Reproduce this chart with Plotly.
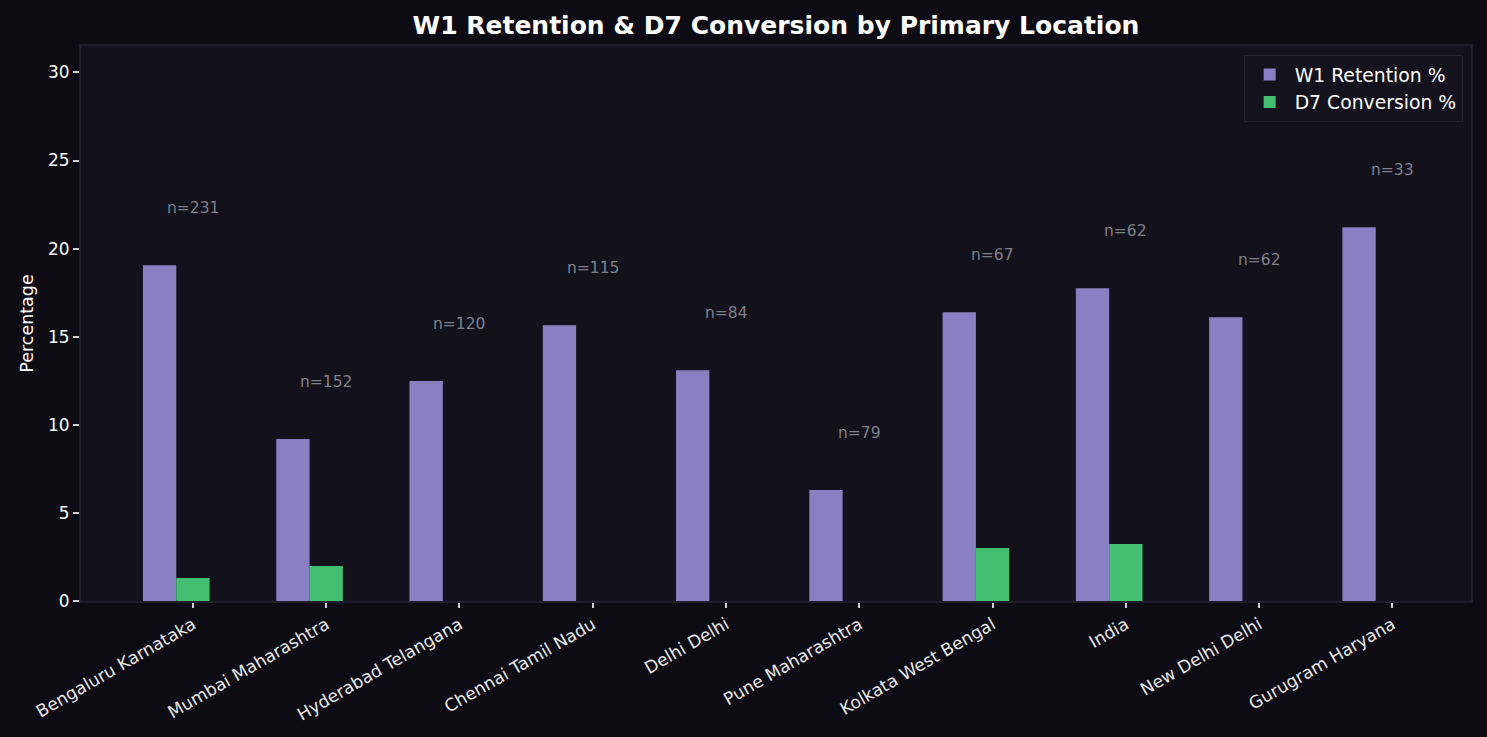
import plotly.graph_objects as go

# data
locations = ["Bengaluru Karnataka", "Mumbai Maharashtra", "Hyderabad Telangana",
             "Chennai Tamil Nadu", "Delhi Delhi", "Pune Maharashtra",
             "Kolkata West Bengal", "India", "New Delhi Delhi", "Gurugram Haryana"]
w1_retention = [19.06, 9.19, 12.48, 15.65, 13.10, 6.30, 16.39, 17.75, 16.11, 21.21]
d7_conversion = [1.30, 1.99, 0, 0, 0, 0, 3.01, 3.23, 0, 0]
sample_sizes = [231, 152, 120, 115, 84, 79, 67, 62, 62, 33]

PAPER = "#0d0b13"
PLOT = "#12111c"
SPINE = "#201e2c"
FONT = "DejaVu Sans"
BAR_W = 0.25

fig = go.Figure()
# W1 sits left of the tick, D7 is centred on the tick
fig.add_trace(go.Bar(x=locations, y=w1_retention, name="W1 Retention %",
                     width=BAR_W, offset=-1.5 * BAR_W,
                     marker=dict(color="#8b7fc4", line=dict(width=0))))
fig.add_trace(go.Bar(x=locations, y=d7_conversion, name="D7 Conversion %",
                     width=BAR_W, offset=-0.5 * BAR_W,
                     marker=dict(color="#43bf71", line=dict(width=0))))

# n= labels above each group
for loc, w, n in zip(locations, w1_retention, sample_sizes):
    fig.add_annotation(x=loc, y=w + 3.25, text=f"n={n}", showarrow=False,
                       yanchor="middle", font=dict(family=FONT, size=15.5, color="#80808a"))

fig.update_layout(
    width=1487, height=737,
    paper_bgcolor=PAPER, plot_bgcolor=PLOT,
    font=dict(family=FONT, color="white"),
    title=dict(text="<b>W1 Retention & D7 Conversion by Primary Location</b>",
               x=0.5, xref="paper", xanchor="center", y=0.966, yanchor="middle",
               font=dict(family=FONT, size=25, color="white")),
    margin=dict(l=81, r=16, t=46, b=136),
    barmode="overlay",
    legend=dict(x=0.994, y=0.984, xanchor="right", yanchor="top",
                bgcolor="#14121d", bordercolor="#24222f", borderwidth=1,
                font=dict(family=FONT, size=18.8, color="white"),
                itemsizing="constant", itemwidth=40, tracegroupgap=2),
    showlegend=True,
)

fig.update_xaxes(range=[-0.84, 9.59], tickangle=-30, ticks="outside", ticklen=5,
                 tickcolor="#d0d0d0", tickwidth=1.5,
                 tickfont=dict(family=FONT, size=17.2, color="#e8e8e8"),
                 showgrid=False, zeroline=False, showline=True, linecolor=SPINE,
                 linewidth=2, mirror=True)
fig.update_yaxes(range=[0, 31.5], tickvals=[0, 5, 10, 15, 20, 25, 30],
                 ticks="outside", ticklen=6, tickcolor="#d0d0d0", tickwidth=1.5,
                 tickfont=dict(family=FONT, size=17, color="white"),
                 title=dict(text="Percentage", font=dict(family=FONT, size=17.5, color="white"),
                            standoff=10),
                 showgrid=False, zeroline=False, showline=True, linecolor=SPINE,
                 linewidth=2, mirror=True)

fig.write_html("out.html", config={"displayModeBar": False},
               post_script="document.body.style.margin='0';"
                           "document.body.style.background='#0d0b13';")
